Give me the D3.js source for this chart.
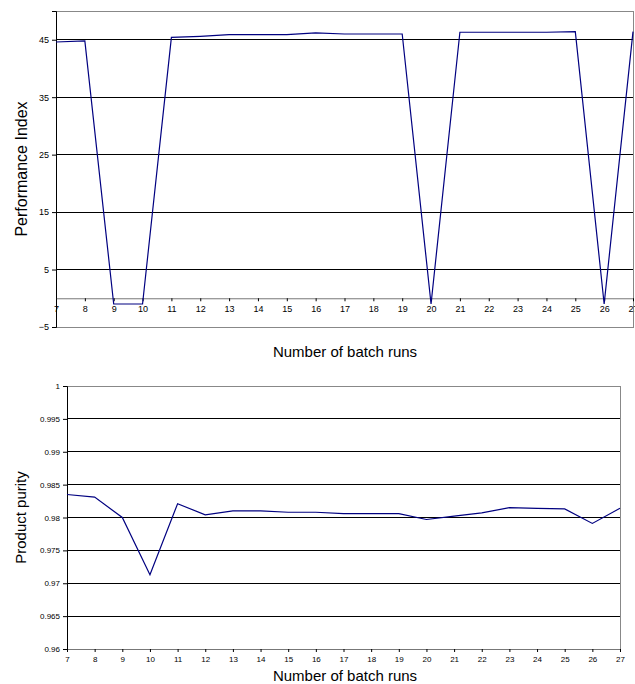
<!DOCTYPE html>
<html>
<head>
<meta charset="utf-8">
<script src="https://cdn.jsdelivr.net/npm/d3@7.9.0/dist/d3.min.js"></script>
<style>
  body { margin: 0; background: #fff; }
  svg { display: block; font-family: "Liberation Sans", Arial, sans-serif; }
</style>
</head>
<body>
<svg id="chart" width="635" height="684"></svg>
<script>
const batchRuns = d3.range(7, 28);

const performanceIndex = [
  44.6, 44.8, -1, -1, 45.4, 45.6, 45.9, 45.9, 45.9, 46.2, 46.0,
  46.0, 46.0, -1, 46.3, 46.3, 46.3, 46.3, 46.4, -1, 46.4
];

const productPurity = [
  0.9835, 0.9831, 0.9800, 0.9713, 0.9821, 0.9804, 0.9810, 0.9810, 0.9808, 0.9808, 0.9806,
  0.9806, 0.9806, 0.9797, 0.9802, 0.9807, 0.9815, 0.9814, 0.9813, 0.9791, 0.9814
];

const perfTicks = [-5, 5, 15, 25, 35, 45];
const purityTicks = [0.96, 0.965, 0.97, 0.975, 0.98, 0.985, 0.99, 0.995, 1];

const svg = d3.select('#chart');

function drawPanel(opts) {
  const { box, values, yDomain, yTicks, yFormat, yLabel, xAxisAt, tickFont, yLabelFont, titleY } = opts;

  const x = d3.scaleLinear().domain([7, 27]).range([box.left, box.right]);
  const y = d3.scaleLinear().domain(yDomain).range([box.bottom, box.top]);

  const g = svg.append('g');

  // gridlines
  g.append('g')
    .selectAll('line')
    .data(yTicks.filter(t => t !== yDomain[0] && t !== yDomain[1]))
    .join('line')
    .attr('x1', box.left).attr('x2', box.right)
    .attr('y1', d => y(d)).attr('y2', d => y(d))
    .attr('stroke', '#000').attr('stroke-width', 1)
    .attr('shape-rendering', 'crispEdges');

  // plot frame (gray)
  g.append('rect')
    .attr('x', box.left).attr('y', box.top)
    .attr('width', box.right - box.left).attr('height', box.bottom - box.top)
    .attr('fill', 'none').attr('stroke', '#888')
    .attr('shape-rendering', 'crispEdges');

  // y axis
  const yAxis = g.append('g')
    .attr('transform', `translate(${box.left},0)`)
    .call(d3.axisLeft(y).tickValues(yTicks).tickFormat(yFormat).tickSize(4).tickPadding(3));
  yAxis.select('.domain').attr('stroke', '#000');
  yAxis.selectAll('line').attr('stroke', '#000');
  yAxis.selectAll('text').attr('font-size', tickFont).attr('fill', '#000');

  // x axis
  const xPos = y(xAxisAt);
  const xAxis = g.append('g')
    .attr('transform', `translate(0,${xPos})`)
    .call(d3.axisBottom(x).tickValues(batchRuns).tickFormat(d3.format('d')).tickSize(3).tickSizeOuter(0).tickPadding(4));
  xAxis.select('.domain').attr('stroke', '#777');
  xAxis.selectAll('line').attr('stroke', '#000');
  xAxis.selectAll('text').attr('font-size', tickFont).attr('fill', '#000');

  // series line
  const line = d3.line().x((d, i) => x(batchRuns[i])).y(d => y(d));
  g.append('path')
    .datum(values)
    .attr('d', line)
    .attr('fill', 'none')
    .attr('stroke', '#000080')
    .attr('stroke-width', 1.2);

  // y label
  g.append('text')
    .attr('transform', `translate(${opts.yLabelX},${(box.top + box.bottom) / 2}) rotate(-90)`)
    .attr('text-anchor', 'middle')
    .attr('font-size', yLabelFont)
    .text(yLabel);

  // x title
  g.append('text')
    .attr('x', opts.titleX)
    .attr('y', titleY)
    .attr('text-anchor', 'middle')
    .attr('font-size', opts.titleFont)
    .text('Number of batch runs');
}

drawPanel({
  box: { left: 56, right: 633, top: 11, bottom: 327 },
  values: performanceIndex,
  yDomain: [-5, 50],
  yTicks: perfTicks,
  yFormat: d3.format('d'),
  yLabel: 'Performance Index',
  xAxisAt: 0,
  tickFont: 9,
  yLabelFont: 16,
  yLabelX: 27,
  titleX: 345,
  titleY: 357,
  titleFont: 15
});

drawPanel({
  box: { left: 67, right: 620, top: 386, bottom: 649 },
  values: productPurity,
  yDomain: [0.96, 1],
  yTicks: purityTicks,
  yFormat: d => d === 1 ? '1' : d3.format('.3~f')(d),
  yLabel: 'Product purity',
  xAxisAt: 0.96,
  tickFont: 8,
  yLabelFont: 15,
  yLabelX: 26,
  titleX: 345,
  titleY: 681,
  titleFont: 15
});
</script>
</body>
</html>
